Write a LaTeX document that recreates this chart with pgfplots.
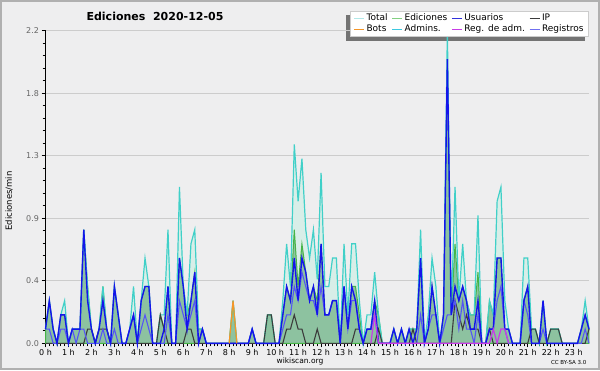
\documentclass[border=0pt]{standalone}
\usepackage{fontspec}
\setmainfont{DejaVu Sans}
\usepackage{pgfplots}
\pgfplotsset{compat=1.18}
\usepackage{pgfplotstable}
\pgfdeclarelayer{shadowlayer}
\pgfsetlayers{shadowlayer,main}
\definecolor{bgout}{RGB}{238,238,239}
\definecolor{framegray}{RGB}{176,176,176}
\definecolor{totline}{RGB}{64,208,200}
\definecolor{totfill}{RGB}{216,238,232}
\definecolor{totleg}{RGB}{176,232,232}
\definecolor{edline}{RGB}{70,180,70}
\definecolor{edfill}{RGB}{141,194,160}
\definecolor{edleg}{RGB}{130,208,130}
\definecolor{usucol}{RGB}{20,20,235}
\definecolor{usuleg}{RGB}{50,50,220}
\definecolor{ipcol}{RGB}{60,60,60}
\definecolor{botcol}{RGB}{245,150,40}
\definecolor{admcol}{RGB}{60,200,224}
\definecolor{racol}{RGB}{200,60,230}
\definecolor{regcol}{RGB}{85,85,245}
\definecolor{regleg}{RGB}{112,112,240}

\pgfplotstableread{
i T E U IP R
0 0.1 0.1 0.1 0 0.1
1 0.3 0.3 0.3 0 0.1
2 0.1 0.1 0.1 0 0
3 0 0 0 0 0
4 0.2 0.2 0.2 0 0.1
5 0.3 0.2 0.2 0 0.1
6 0 0 0 0 0
7 0.1 0.1 0.1 0 0.1
8 0.1 0.1 0.1 0 0
9 0.1 0.1 0.1 0 0.1
10 0.8 0.8 0.8 0 0.1
11 0.4 0.4 0.3 0.1 0
12 0.1 0.1 0.1 0.1 0
13 0 0 0 0 0
14 0.1 0.1 0.1 0.1 0
15 0.4 0.4 0.3 0.1 0.1
16 0.1 0.1 0.1 0.1 0
17 0 0 0 0 0
18 0.4 0.4 0.4 0 0.1
19 0.2 0.2 0.2 0 0
20 0 0 0 0 0
21 0 0 0 0 0
22 0.1 0.1 0.1 0 0.1
23 0.4 0.2 0.2 0 0.2
24 0 0 0 0 0
25 0.3 0.3 0.3 0 0.1
26 0.6 0.4 0.4 0 0.2
27 0.4 0.4 0.4 0 0.1
28 0 0 0 0 0
29 0 0 0 0 0
30 0.2 0.2 0 0.2 0
31 0.2 0.1 0.1 0.1 0
32 0.8 0.4 0.4 0 0.2
33 0 0 0 0 0
34 0 0 0 0 0
35 1.1 0.6 0.6 0 0.3
36 0.4 0.4 0.4 0 0.2
37 0.2 0.2 0.1 0.1 0.1
38 0.7 0.3 0.3 0.1 0.2
39 0.8 0.5 0.5 0 0.3
40 0.1 0.1 0 0 0
41 0.1 0.1 0.1 0 0.1
42 0 0 0 0 0
43 0 0 0 0 0
44 0 0 0 0 0
45 0 0 0 0 0
46 0 0 0 0 0
47 0 0 0 0 0
48 0 0 0 0 0
49 0.3 0.3 0 0 0
50 0 0 0 0 0
51 0 0 0 0 0
52 0 0 0 0 0
53 0 0 0 0 0
54 0.1 0.1 0.1 0 0.1
55 0 0 0 0 0
56 0 0 0 0 0
57 0 0 0 0 0
58 0.2 0.2 0 0.2 0
59 0.2 0.2 0 0.2 0
60 0 0 0 0 0
61 0 0 0 0 0
62 0.3 0.2 0.2 0 0.1
63 0.7 0.4 0.4 0.1 0.2
64 0.4 0.3 0.3 0.1 0.2
65 1.4 0.8 0.6 0.2 0.4
66 1.0 0.4 0.3 0.1 0.3
67 1.3 0.7 0.6 0.1 0.5
68 0.8 0.5 0.5 0 0.4
69 0.6 0.3 0.3 0 0.3
70 0.8 0.4 0.4 0 0.3
71 0.45 0.3 0.2 0.1 0.2
72 1.2 0.7 0.7 0 0.4
73 0.4 0.2 0.2 0 0.2
74 0.4 0.2 0.2 0 0.2
75 0.6 0.3 0.3 0 0.3
76 0.6 0.3 0.3 0 0.3
77 0 0 0 0 0
78 0.7 0.4 0.4 0 0.4
79 0.2 0.1 0.1 0 0.1
80 0.7 0.4 0.4 0 0.3
81 0.7 0.4 0.3 0.1 0.3
82 0.3 0.2 0.1 0.1 0.1
83 0 0 0 0 0
84 0.2 0.1 0.1 0 0.1
85 0.2 0.1 0.1 0 0.1
86 0.5 0.3 0.3 0 0.2
87 0.2 0.2 0 0.1 0
88 0 0 0 0 0
89 0 0 0 0 0
90 0 0 0 0 0
91 0.1 0.1 0.1 0 0
92 0 0 0 0 0
93 0.1 0.1 0.1 0 0
94 0 0 0 0 0
95 0.1 0.1 0.1 0 0
96 0.1 0.1 0 0.1 0
97 0.1 0.1 0.1 0 0
98 0.8 0.6 0.6 0 0.2
99 0 0 0 0 0
100 0.2 0.1 0.1 0 0.1
101 0.6 0.4 0.4 0 0.2
102 0.4 0.2 0.2 0 0.2
103 0 0 0 0 0
104 0.2 0.2 0.2 0 0.1
105 2.2 2.0 2.0 0 0.2
106 0.2 0.2 0.2 0 0.2
107 1.1 0.7 0.4 0.3 0.3
108 0.3 0.3 0.3 0.2 0.1
109 0.7 0.4 0.4 0.1 0.3
110 0.3 0.3 0.3 0.2 0.1
111 0.2 0.2 0.1 0.1 0.1
112 0.2 0.2 0.1 0.1 0
113 0.9 0.5 0.3 0.1 0.2
114 0 0 0 0 0
115 0 0 0 0 0
116 0.3 0.3 0.1 0.1 0.1
117 0.2 0.2 0.1 0 0.1
118 1.0 0.6 0.6 0 0.3
119 1.1 0.6 0.6 0 0.4
120 0.3 0.1 0.1 0 0.1
121 0.1 0.1 0.1 0 0
122 0 0 0 0 0
123 0 0 0 0 0
124 0 0 0 0 0
125 0.6 0.3 0.3 0 0.3
126 0.6 0.4 0.4 0 0.2
127 0.1 0.1 0 0.1 0
128 0.1 0.1 0 0.1 0
129 0 0 0 0 0
130 0.3 0.3 0.3 0 0.1
131 0 0 0 0 0
132 0.1 0.1 0 0.1 0
133 0.1 0.1 0 0.1 0
134 0.1 0.1 0 0.1 0
135 0 0 0 0 0
136 0 0 0 0 0
137 0 0 0 0 0
138 0 0 0 0 0
139 0 0 0 0 0
140 0.1 0.1 0.1 0 0
141 0.3 0.2 0.2 0 0.1
142 0.1 0.1 0.1 0.1 0
}\maindata

\pgfplotstableread{
i B
48 0
49 0.3
50 0
}\botdata

\pgfplotstableread{
i RA
85 0
86 0.2
87 0
116 0
117 0.1
118 0
119 0.1
120 0.1
121 0
}\radata

\begin{document}
\begin{tikzpicture}[x=1pt,y=1pt]
\useasboundingbox (0,0) rectangle (600,370);
\begin{pgfonlayer}{shadowlayer}
\fill[bgout] (0,0) rectangle (600,370);
\draw[framegray, line width=2pt] (1,1) rectangle (599,369);
\end{pgfonlayer}
\begin{axis}[
  at={(45.5pt,26.7pt)}, anchor=south west,
  scale only axis, width=543.5pt, height=312.6pt,
  xmin=0, xmax=23.6667, ymin=0, ymax=2.2,
  clip=false,
  axis x line*=bottom, axis y line*=left,
  axis line style={black, line width=1.1pt, -},
  xtick={0,...,23},
  xticklabels={0 h,1 h,2 h,3 h,4 h,5 h,6 h,7 h,8 h,9 h,10 h,11 h,12 h,13 h,14 h,15 h,16 h,17 h,18 h,19 h,20 h,21 h,22 h,23 h},
  ytick={0,0.44,0.88,1.32,1.76,2.2},
  yticklabels={0.0,0.4,0.9,1.3,1.8,2.2},
  minor x tick num=5, minor y tick num=4,
  tick align=outside, major tick length=4pt, minor tick length=3pt,
  every tick/.style={black, line width=0.8pt},
  ymajorgrids, major grid style={gray!40, line width=0.8pt},
  xticklabel style={font=\fontsize{8}{8}\selectfont, text=black, yshift=1pt},
  yticklabel style={font=\fontsize{8}{8}\selectfont, text=black!60, xshift=1pt},
  legend columns=4,
  legend cell align=left,
  legend image code/.code={\draw[#1, line width=1pt] (0pt,0pt) -- (10pt,0pt);},
  legend style={name=leg, at={(1,1)}, anchor=north east, yshift=20pt,
    draw=gray!40, fill=white, line width=0.8pt,
    font=\fontsize{9}{9}\selectfont, inner xsep=3pt, inner ysep=1pt,
    row sep=-1.5pt,
    /tikz/every even column/.append style={column sep=2pt}},
]
\addplot[draw=none, fill=totfill, forget plot] table[x expr=\thisrow{i}/6, y=T]{\maindata} \closedcycle;
\addplot[draw=edline, line width=1pt, fill=edfill, forget plot] table[x expr=\thisrow{i}/6, y=E]{\maindata} \closedcycle;
\addplot[totline, line width=1.2pt, forget plot] table[x expr=\thisrow{i}/6, y=T]{\maindata};
\addplot[ipcol, line width=1.1pt, forget plot] table[x expr=\thisrow{i}/6, y=IP]{\maindata};
\addplot[regcol, line width=1.1pt, forget plot] table[x expr=\thisrow{i}/6, y=R]{\maindata};
\addplot[usucol, line width=1.4pt, forget plot] table[x expr=\thisrow{i}/6, y=U]{\maindata};
\addplot[botcol, line width=1.2pt, forget plot] table[x expr=\thisrow{i}/6, y=B]{\botdata};
\addplot[racol, line width=1.2pt, forget plot] table[x expr=\thisrow{i}/6, y=RA]{\radata};

\addlegendimage{color=totleg}\addlegendentry{Total}
\addlegendimage{color=edleg}\addlegendentry{Ediciones}
\addlegendimage{color=usuleg}\addlegendentry{Usuarios}
\addlegendimage{color=ipcol}\addlegendentry{IP}
\addlegendimage{color=botcol}\addlegendentry{Bots}
\addlegendimage{color=admcol}\addlegendentry{Admins.}
\addlegendimage{color=racol}\addlegendentry{Reg. de adm.}
\addlegendimage{color=regleg}\addlegendentry{Registros}
\end{axis}
\begin{pgfonlayer}{shadowlayer}
\fill[black!55] ([shift={(-4pt,-4pt)}]leg.south west) rectangle ([shift={(-4pt,-4pt)}]leg.north east);
\end{pgfonlayer}
\node[font=\bfseries\fontsize{11}{12}\selectfont] at (155,354) {Ediciones\ \ 2020-12-05};
\node[rotate=90, font=\fontsize{8.5}{9}\selectfont] at (9,169) {Ediciones/min};
\node[font=\fontsize{7.5}{8}\selectfont] at (300,9) {wikiscan.org};
\node[font=\fontsize{5.5}{6}\selectfont, anchor=east] at (590,8) {CC BY-SA 3.0};
\end{tikzpicture}
\end{document}
